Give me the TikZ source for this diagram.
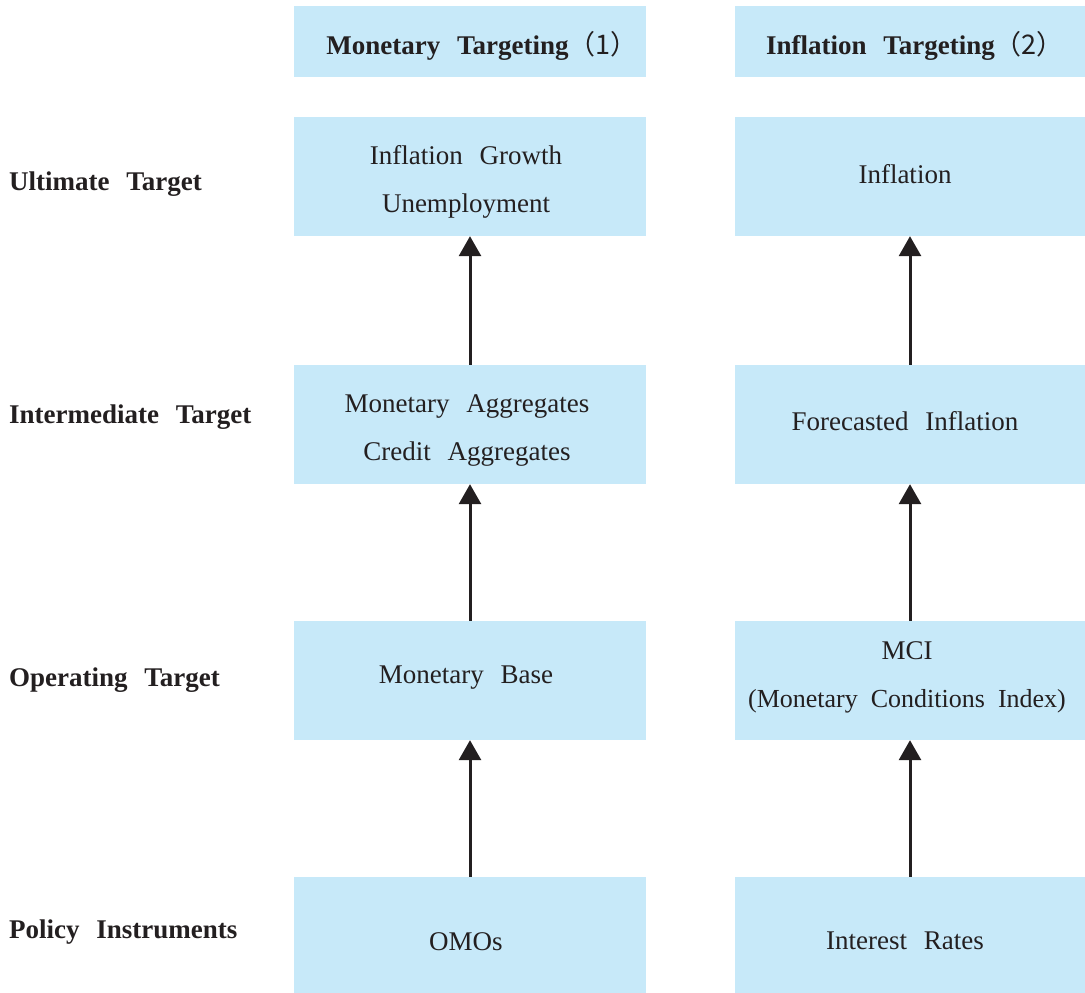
\documentclass[tikz,border=0pt]{standalone}
\usepackage{fontspec}
\setmainfont{Liberation Serif}
\newfontfamily\cjk{Noto Sans CJK SC}
\usetikzlibrary{arrows.meta}
\definecolor{boxblue}{RGB}{199,233,249}
\definecolor{ink}{RGB}{35,31,32}
\newcommand{\bigtxt}{\fontsize{27}{48}\selectfont\spaceskip=0.62em plus 0.1em minus 0.1em\relax}
\newcommand{\tighttxt}{\fontsize{26}{48}\selectfont\spaceskip=0.5em plus 0.1em minus 0.1em\relax}
\begin{document}
\begin{tikzpicture}[x=1pt,y=-1pt,
  txt/.style={font=\bigtxt, text=ink, align=center, inner sep=0pt},
  box/.style={fill=boxblue, draw=none, inner sep=0pt, minimum height=119pt},
  lbox/.style={box, minimum width=352pt},
  rbox/.style={box, minimum width=350pt},
  hbox/.style={box, minimum height=71pt},
  hdr/.style={font=\bigtxt\bfseries, text=ink, inner sep=0pt},
  lab/.style={font=\bigtxt\bfseries, text=ink, anchor=west, inner sep=0pt},
  arr/.style={ink, line width=3pt, -{Triangle[width=22pt,length=20pt]}}
]
\useasboundingbox (0,0) rectangle (1085,993);
% header boxes
\node[hbox, minimum width=352pt] (h1) at (470,41.5) {};
\node[hbox, minimum width=350pt] (h2) at (910,41.5) {};
\node[hdr] (h1t) at (482,45.5) {Monetary Targeting{\cjk\mdseries （1）}};
\node[hdr] (h2t) at (915,45.5) {Inflation Targeting{\cjk\mdseries （2）}};
% left labels
\node[lab] (l1) at (9,184) {Ultimate Target};
\node[lab] (l2) at (9,417) {Intermediate Target};
\node[lab] (l3) at (9,680) {Operating Target};
\node[lab] (l4) at (9,932) {Policy Instruments};
% left column boxes
\node[lbox] (a1) at (470,176.5) {};
\node[lbox] (a2) at (470,424.5) {};
\node[lbox] (a3) at (470,680.5) {};
\node[lbox, minimum height=116pt] (a4) at (470,935) {};
% right column boxes
\node[rbox] (b1) at (910,176.5) {};
\node[rbox] (b2) at (910,424.5) {};
\node[rbox] (b3) at (910,680.5) {};
\node[rbox, minimum height=116pt] (b4) at (910,935) {};
% texts
\node[txt] (a1t) at (466,182) {Inflation Growth\\Unemployment};
\node[txt] (a2t) at (467,430) {Monetary Aggregates\\Credit Aggregates};
\node[txt] (a3t) at (466,678) {Monetary Base};
\node[txt] (a4t) at (466,942) {OMOs};
\node[txt] (b1t) at (905,174) {Inflation};
\node[txt] (b2t) at (905,421) {Forecasted Inflation};
\node[txt] (b3t) at (907,677.5) {MCI\\{\tighttxt(Monetary Conditions Index)}};
\node[txt] (b4t) at (905,941) {Interest Rates};
% arrows
\draw[arr] (a4.north) -- (a3.south);
\draw[arr] (a3.north) -- (a2.south);
\draw[arr] (a2.north) -- (a1.south);
\draw[arr] (b4.north) -- (b3.south);
\draw[arr] (b3.north) -- (b2.south);
\draw[arr] (b2.north) -- (b1.south);
\end{tikzpicture}
\end{document}
